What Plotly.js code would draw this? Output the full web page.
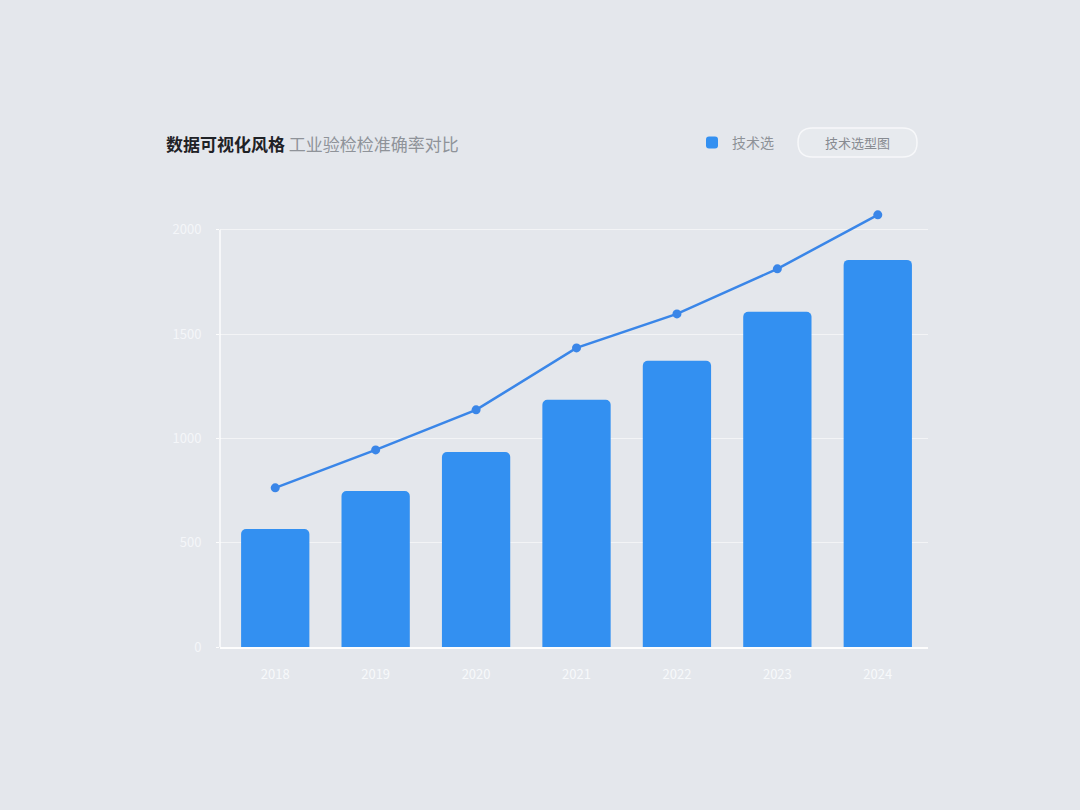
<!DOCTYPE html>
<html>
<head>
<meta charset="utf-8">
<script src="https://cdn.plot.ly/plotly-3.0.1.min.js"></script>
<style>
  html, body { margin: 0; padding: 0; background: #e4e7ec; }
  #chart { width: 1080px; height: 810px; }
</style>
</head>
<body>
<div id="chart"></div>
<script>
// categories and values
const categories = ['2018', '2019', '2020', '2021', '2022', '2023', '2024'];
const barValues = [566, 748, 935, 1185, 1372, 1607, 1856];
const lineValues = [763, 945, 1137, 1434, 1597, 1813, 2072];
const yTicks = [0, 500, 1000, 1500, 2000];
const yTickText = ['0', '500', '1000', '1500', '2000'];

const FONT = '"Noto Sans CJK SC", "Noto Sans", sans-serif';

// plot box in pixels (0 at y=647, 2000 at y=230)
const PX_L = 220, PX_W = 708, PX_BOT = 647, PX_H = 438; // range 0..2100
const px = (x) => ((x - PX_L) / PX_W).toFixed(4);
const py = (y) => ((PX_BOT - y) / PX_H).toFixed(4);

// bars
let barTrace = {
    type: 'bar',
    x: categories,
    y: barValues,
    name: '技术选',
    width: 0.68,
    marker: {
        color: '#3390f1',
        cornerradius: 5,
        line: { width: 0 }
    },
    hoverinfo: 'skip'
};

// trend line on top
let lineTrace = {
    type: 'scatter',
    mode: 'lines+markers',
    x: categories,
    y: lineValues,
    showlegend: false,
    cliponaxis: false,
    line: { color: '#3a86e8', width: 2.5 },
    marker: { color: '#3a86e8', size: 9 },
    hoverinfo: 'skip'
};

let data = [barTrace, lineTrace];

// pill shaped rectangle from pixel corners
function pillPath(x0, y0, x1, y1) {
    const r = (y1 - y0) / 2;
    return 'M ' + px(x0 + r) + ',' + py(y0) +
        ' L ' + px(x1 - r) + ',' + py(y0) +
        ' Q ' + px(x1) + ',' + py(y0) + ' ' + px(x1) + ',' + py(y0 + r) +
        ' Q ' + px(x1) + ',' + py(y1) + ' ' + px(x1 - r) + ',' + py(y1) +
        ' L ' + px(x0 + r) + ',' + py(y1) +
        ' Q ' + px(x0) + ',' + py(y1) + ' ' + px(x0) + ',' + py(y0 + r) +
        ' Q ' + px(x0) + ',' + py(y0) + ' ' + px(x0 + r) + ',' + py(y0) + ' Z';
}

let layout = {
    width: 1080,
    height: 810,
    margin: { l: PX_L, r: 1080 - PX_L - PX_W, t: PX_BOT - PX_H, b: 810 - PX_BOT },
    paper_bgcolor: '#e4e7ec',
    plot_bgcolor: 'rgba(0,0,0,0)',
    font: { family: FONT, color: '#f4f6f9' },
    title: {
        text: '<b>数据可视化风格</b> <span style="color:#8f9399;font-weight:normal">工业验检检准确率对比</span>',
        font: { family: FONT, size: 17, color: '#1f2226' },
        x: 166 / 1080,
        xanchor: 'left',
        y: 1 - 145 / 810,
        yanchor: 'middle'
    },
    showlegend: true,
    legend: {
        orientation: 'h',
        x: (692 - PX_L) / PX_W,
        xanchor: 'left',
        y: (PX_BOT - 143) / PX_H,
        yanchor: 'middle',
        bgcolor: 'rgba(0,0,0,0)',
        font: { family: FONT, size: 14, color: '#8e9298' },
        itemwidth: 30
    },
    xaxis: {
        type: 'category',
        range: [-0.55, 6.5],
        showgrid: false,
        showline: true,
        linecolor: 'rgba(255,255,255,0.9)',
        linewidth: 2,
        ticks: '',
        ticklabelstandoff: 14,
        tickfont: { family: FONT, size: 13, color: '#f7f9fb' },
        zeroline: false,
        fixedrange: true
    },
    yaxis: {
        range: [0, 2100],
        tickvals: yTicks,
        ticktext: yTickText,
        showgrid: true,
        gridcolor: 'rgba(255,255,255,0.55)',
        gridwidth: 1,
        showline: false,
        ticks: 'outside',
        ticklen: 3,
        tickcolor: 'rgba(255,255,255,0.9)',
        ticklabelstandoff: 12,
        tickfont: { family: FONT, size: 13, color: '#f4f6f9' },
        zeroline: false,
        fixedrange: true
    },
    shapes: [
        // y axis line, only up to the top tick
        {
            type: 'line', xref: 'paper', yref: 'y',
            x0: 0, x1: 0, y0: 0, y1: 2000,
            line: { color: 'rgba(255,255,255,0.9)', width: 1.5 }
        },
        // pill button outline top right
        {
            type: 'path', xref: 'paper', yref: 'paper',
            path: pillPath(798, 128, 917, 157),
            line: { color: '#f7f8fa', width: 1.5 },
            fillcolor: 'rgba(255,255,255,0.12)'
        }
    ],
    annotations: [
        {
            xref: 'paper', yref: 'paper',
            x: px((798 + 917) / 2),
            y: py(142.5),
            text: '技术选型图',
            showarrow: false,
            font: { family: FONT, size: 13, color: '#878b91' },
            xanchor: 'center',
            yanchor: 'middle'
        }
    ]
};

Plotly.newPlot('chart', data, layout, { displayModeBar: false, staticPlot: true });
</script>
</body>
</html>
